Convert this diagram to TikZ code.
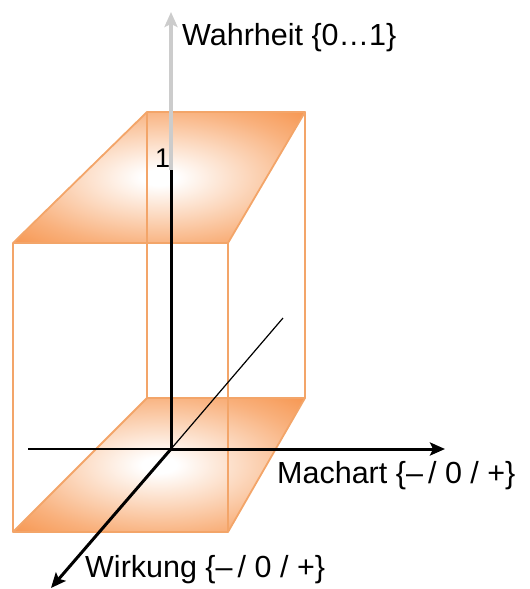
\documentclass[tikz,border=0pt]{standalone}
\usepackage{fontspec}
\setmainfont{Liberation Sans}
\usetikzlibrary{arrows.meta}
\definecolor{boxorange}{RGB}{246,144,70}
\definecolor{boxedge}{RGB}{243,165,105}
\definecolor{axisgray}{RGB}{204,204,204}
\pgfdeclareradialshading{glow}{\pgfpoint{0bp}{0bp}}{color(0bp)=(white); color(3bp)=(white); color(14bp)=(boxorange!33!white); color(26bp)=(boxorange!70!white); color(38bp)=(boxorange); color(50bp)=(boxorange)}
\begin{document}
\begin{tikzpicture}[x=1pt,y=-1pt,
  edge/.style={draw=boxedge,line width=1.8pt,line join=round},
  thickax/.style={line width=3pt},
  thinax/.style={line width=1.2pt},
  tip/.style={-{Stealth[length=15pt,width=13pt,inset=3pt]}},
  lbl/.style={inner sep=0pt,anchor=base west,font=\fontsize{30.5}{36}\selectfont}]
\useasboundingbox (0,0) rectangle (530,589);
% box corners
\coordinate (TBL) at (147,112);
\coordinate (TBR) at (305,112);
\coordinate (TFL) at (13,243);
\coordinate (TFR) at (228,243);
\coordinate (BBL) at (147,398);
\coordinate (BBR) at (305,398);
\coordinate (BFL) at (13,532);
\coordinate (BFR) at (228,532);
% faces
\shade[shading=glow] (TBL) -- (TBR) -- (TFR) -- (TFL) -- cycle;
\shade[shading=glow] (BBL) -- (BBR) -- (BFR) -- (BFL) -- cycle;
% edges
\draw[edge] (TBL) -- (TBR) -- (TFR) -- (TFL) -- cycle;
\draw[edge] (BBL) -- (BBR) -- (BFR) -- (BFL) -- cycle;
\draw[edge] (TBL) -- (BBL);
\draw[edge] (TBR) -- (BBR);
\draw[edge] (TFL) -- (BFL);
\draw[edge] (TFR) -- (BFR);
% axes
\coordinate (O) at (171,449);
\coordinate (Z1) at (171,170);
\coordinate (Ztip) at (171,12);
\coordinate (Xneg) at (28,449);
\coordinate (Xtip) at (445,449);
\coordinate (Yback) at (283,318);
\coordinate (Ytip) at (51,588);
\draw[axisgray,line width=4pt,tip] (Z1) -- (Ztip);
\draw[thickax] (O) -- (Z1);
\draw[thinax] (Xneg) -- (O);
\draw[thickax,tip] (O) -- (Xtip);
\draw[thinax] (O) -- (Yback);
\draw[thickax,tip] (O) -- (Ytip);
% labels
\node[lbl] (wahr) at (182,45) {Wahrheit \{0…1\}};
\node[lbl] (mach) at (277,483) {Machart \{–\,/ 0 / +\}};
\node[lbl] (wirk) at (85,577) {Wirkung \{–\,/ 0 / +\}};
\node[lbl,font=\fontsize{27}{30}\selectfont] (one) at (155,167) {1};
\end{tikzpicture}
\end{document}
